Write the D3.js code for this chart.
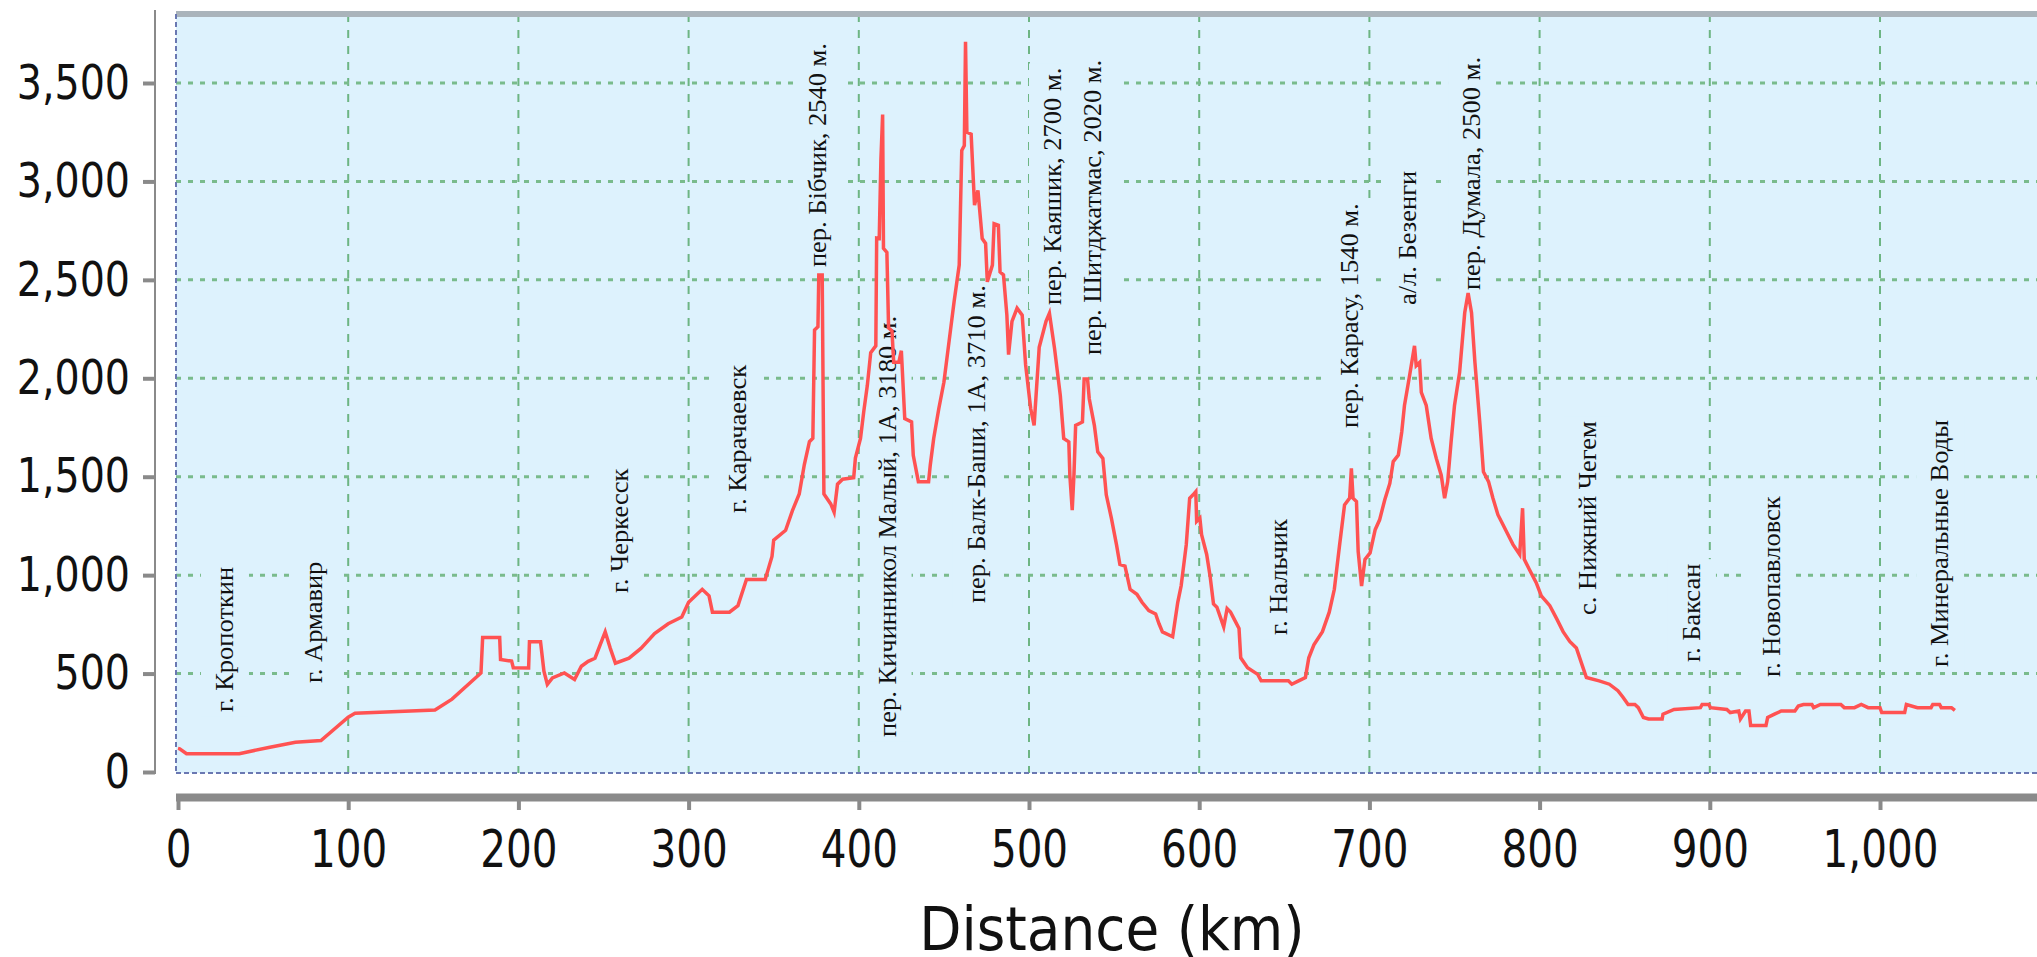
<!DOCTYPE html>
<html>
<head>
<meta charset="utf-8">
<script src="https://cdn.jsdelivr.net/npm/d3@7/dist/d3.min.js"></script>
<style>
  body { margin: 0; background: #fff; }
  svg { display: block; }
</style>
</head>
<body>
<svg width="2037" height="957"></svg>
<script>
// profile: distance (km) and elevation (m)
var distKm = [0,1,5,36,54,69,84,100,104,151,161,178,179,189,189.5,196,197,206,206.5,213,215,217,220,227,233,237,241,245,251,254,257,265,272,280,288,296,300,308,312,314,324,329,334,345,349,350,357,361,365,368,371,373,374,376,376.5,378.5,379.5,383.5,385.5,387.5,390.5,397,398,401,403,405,407,410,410.5,412,413,414,414.5,416.5,417.5,419.5,420.5,423.5,425,427,431,432,435,441,442,444,447,450,453,456,459,460.5,462,462.7,463.5,466,468,470,472.5,474.5,475.5,478.5,479.5,482,483,485,487,488,490,493,496,498,501,503,506,510,512,515,518.4,520.4,523.4,524,525.4,526.4,527.4,531.4,532.4,534.4,535.4,538.4,540.4,543.4,545.4,548.4,551.4,553.4,556.4,559.4,563.4,566.4,570.4,574.4,576.4,578.4,584.4,585.4,587.4,589.4,592.4,594.4,596.4,598,598.5,600.4,601.4,604.4,606.4,608.4,610.4,614.4,616.4,618.4,620.4,623.4,624.4,628.4,634.4,636.4,652.4,654.4,658.4,662.4,664.4,667.4,672.4,676.4,679.4,682.4,685.4,688.4,689.4,690.4,692.4,693.4,695.4,697.4,700.4,703.4,706,709,712,714,717,719,720.6,723.6,726.5,727.5,729.5,730.5,733.4,736.3,739.3,742.2,744.2,746,748,750,753,756,758,760,762,765,767,770,772.6,775.5,778.5,781.4,784.4,788.3,790,791,794,798,801,806,810,813.8,817.7,821.6,825.5,827.5,835,841,846,849,852,856,858,861,864,872,872.5,879,894.5,895.5,899.4,900.4,910,912,917,918,921,923,924,933,934,938,942,950,952,955,960,961,965,977,979,985,989,993,1000,1001,1014.5,1015.5,1022,1030,1031,1035,1036,1042,1044];
var elevM = [120,118,93,93,126,151,160,278,298,315,370,503,683,683,572,563,530,528,662,662,512,445,478,503,470,537,562,578,712,628,553,578,628,703,753,787,862,928,895,812,812,845,978,978,1095,1178,1228,1328,1412,1562,1678,1695,2245,2262,2525,2525,1412,1362,1320,1462,1487,1495,1595,1694,1837,1963,2130,2165,2712,2710,3114,3340,2660,2640,2256,2240,2081,2081,2140,1795,1778,1609,1475,1475,1560,1694,1845,1980,2185,2390,2575,3157,3182,3710,3250,3240,2880,2955,2710,2685,2490,2575,2785,2777,2540,2525,2321,2120,2289,2356,2321,2069,1845,1761,2157,2289,2330,2152,1912,1694,1677,1508,1330,1508,1761,1778,1997,1997,1896,1761,1626,1593,1408,1290,1155,1054,1046,928,903,862,820,803,753,712,687,745,862,946,1155,1391,1408,1424,1273,1290,1206,1105,995,854,837,737,830,813,779,729,580,530,496,463,463,446,463,480,580,646,713,812,928,1147,1357,1391,1542,1391,1374,1121,945,1080,1113,1231,1281,1382,1466,1577,1610,1727,1862,2013,2165,2064,2081,1929,1862,1694,1593,1508,1391,1475,1677,1862,2030,2333,2433,2333,2081,1761,1525,1475,1391,1307,1256,1206,1155,1105,1340,1080,1029,962,895,845,779,713,663,630,530,480,463,446,413,380,343,343,327,277,269,269,294,318,327,343,343,327,318,302,310,269,310,310,236,236,277,294,310,310,335,343,343,327,343,343,327,327,343,327,327,302,302,343,327,327,343,343,327,327,313];

// place names along the route
var labelText = ["г. Кропоткин", "г. Армавир", "г. Черкесск", "г. Карачаевск", "пер. Бiбчик, 2540 м.",
  "пер. Кичинникол Малый, 1А, 3180 м.", "пер. Балк-Баши, 1А, 3710 м.", "пер. Каяшик, 2700 м.",
  "пер. Шитджатмас, 2020 м.", "г. Нальчик", "пер. Карасу, 1540 м.", "а/л. Безенги", "пер. Думала, 2500 м.",
  "с. Нижний Чегем", "г. Баксан", "г. Новопавловск", "г. Минеральные Воды"];
var labelKm = [27.6, 79.9, 259.7, 329, 376, 416.9, 469.4, 514.1, 537.6, 646.9, 688.6, 722.7, 760.3, 828.4, 889.5, 936.5, 1035.3];
var labelElev = [305, 452, 909, 1316, 2565, 178, 858, 2372, 2118, 696, 1747, 2372, 2448, 798, 559, 483, 533];

var xTicks = [0, 100, 200, 300, 400, 500, 600, 700, 800, 900, 1000];
var yTicks = [0, 500, 1000, 1500, 2000, 2500, 3000, 3500];

var svg = d3.select("svg"),
    W = +svg.attr("width"),
    plotLeft = 176, plotTop = 14, plotBottom = 773,
    plotFill = "#ddf2fd";

var x = d3.scaleLinear().domain([0, 1100]).range([178, 178 + 1100 * 1.702]),
    y = d3.scaleLinear().domain([0, 3500]).range([772, 83]);

var axisFont = "'DejaVu Sans Condensed', 'DejaVu Sans', sans-serif";

// plot background
svg.append("rect")
   .attr("x", plotLeft).attr("y", plotTop)
   .attr("width", W - plotLeft).attr("height", plotBottom - plotTop)
   .attr("fill", plotFill);

// grid
var grid = svg.append("g");
grid.selectAll(".vgrid")
    .data(xTicks.filter(function(d) { return d > 0; }))
    .enter().append("line")
    .attr("x1", function(d) { return x(d); })
    .attr("x2", function(d) { return x(d); })
    .attr("y1", plotTop).attr("y2", plotBottom)
    .attr("stroke", "#6db583").attr("stroke-width", 2)
    .attr("stroke-dasharray", "8,8");
grid.selectAll(".hgrid")
    .data(yTicks.filter(function(d) { return d > 0; }))
    .enter().append("line")
    .attr("x1", plotLeft).attr("x2", W)
    .attr("y1", function(d) { return y(d); })
    .attr("y2", function(d) { return y(d); })
    .attr("stroke", "#79bb8c").attr("stroke-width", 3)
    .attr("stroke-dasharray", "5,7");

// rotated labels with a box in the plot colour behind them
var labels = labelText.map(function(t, i) {
  return { text: t, km: labelKm[i], elev: labelElev[i] };
});

var lab = svg.append("g").selectAll("g")
    .data(labels)
    .enter().append("g")
    .attr("transform", function(d) {
      return "translate(" + x(d.km) + "," + y(d.elev) + ") rotate(-90) scale(1.06,1)";
    });

lab.append("text")
   .attr("dy", "0.33em")
   .attr("font-family", "'Liberation Serif', 'DejaVu Serif', serif")
   .attr("font-size", 25)
   .attr("fill", "#111")
   .text(function(d) { return d.text; });

lab.each(function() {
  var g = d3.select(this),
      bb = g.select("text").node().getBBox();
  g.insert("rect", "text")
   .attr("x", bb.x - 4).attr("y", -24)
   .attr("width", bb.width + 8).attr("height", 48)
   .attr("fill", plotFill);
});

// elevation profile
var line = d3.line()
    .x(function(d, i) { return x(distKm[i]); })
    .y(function(d) { return y(d); });

svg.append("path")
   .datum(elevM)
   .attr("d", line)
   .attr("fill", "none")
   .attr("stroke", "#ff5252")
   .attr("stroke-width", 3.5)
   .attr("stroke-linejoin", "miter");

// frame
svg.append("line")
   .attr("x1", plotLeft).attr("x2", W).attr("y1", plotTop).attr("y2", plotTop)
   .attr("stroke", "#aab4bb").attr("stroke-width", 6);
svg.append("line")
   .attr("x1", plotLeft).attr("x2", plotLeft).attr("y1", plotTop).attr("y2", plotBottom)
   .attr("stroke", "#6a78b2").attr("stroke-width", 2).attr("stroke-dasharray", "5,3");
svg.append("line")
   .attr("x1", plotLeft).attr("x2", W).attr("y1", plotBottom).attr("y2", plotBottom)
   .attr("stroke", "#6a78b2").attr("stroke-width", 2).attr("stroke-dasharray", "5,3");

// y axis
svg.append("line")
   .attr("x1", 155).attr("x2", 155).attr("y1", 10).attr("y2", 774)
   .attr("stroke", "#8a8a8a").attr("stroke-width", 2);

var yAxis = svg.append("g")
    .attr("transform", "translate(155,0)")
    .call(d3.axisLeft(y).tickValues(yTicks).tickFormat(d3.format(","))
          .tickSize(12).tickSizeOuter(0).tickPadding(13));
yAxis.select(".domain").remove();
yAxis.selectAll(".tick line").attr("stroke", "#8a8a8a").attr("stroke-width", 4);
yAxis.selectAll(".tick text")
     .attr("font-family", axisFont).attr("font-size", 44).attr("fill", "#111")
     .attr("transform", "scale(1,1.08)");

// x axis
svg.append("line")
   .attr("x1", plotLeft).attr("x2", W).attr("y1", 797.5).attr("y2", 797.5)
   .attr("stroke", "#8a8a8a").attr("stroke-width", 8);

var xAxis = svg.append("g")
    .attr("transform", "translate(0,801)")
    .call(d3.axisBottom(x).tickValues(xTicks).tickFormat(d3.format(","))
          .tickSize(9).tickSizeOuter(0));
xAxis.select(".domain").remove();
xAxis.selectAll(".tick line").attr("stroke", "#8a8a8a").attr("stroke-width", 4);
xAxis.selectAll(".tick text")
     .attr("font-family", axisFont).attr("font-size", 45).attr("fill", "#111")
     .attr("y", 66 / 1.13).attr("dy", 0)
     .attr("transform", "scale(1,1.13)");

// axis title
svg.append("text")
   .attr("x", 1112).attr("y", 950)
   .attr("text-anchor", "middle")
   .attr("font-family", axisFont).attr("font-size", 61).attr("fill", "#111")
   .text("Distance (km)");
</script>
</body>
</html>
